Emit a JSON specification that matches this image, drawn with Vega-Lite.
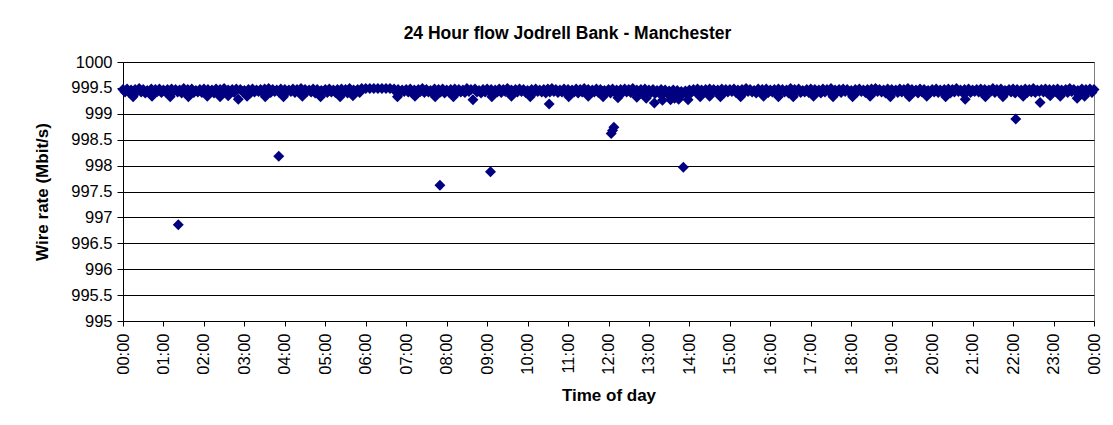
{
  "$schema": "https://vega.github.io/schema/vega-lite/v6.json",
  "autosize": {"type": "none"},
  "padding": {"left": 123, "top": 62, "right": 19, "bottom": 104},
  "width": 971,
  "height": 259,
  "background": "white",
  "title": {
    "text": "24 Hour flow Jodrell Bank - Manchester",
    "font": "Liberation Sans",
    "fontSize": 17.5,
    "fontWeight": "bold",
    "color": "#000000",
    "anchor": "middle",
    "frame": "group",
    "baseline": "alphabetic",
    "offset": 22,
    "dx": -41,
    "dy": 24
  },
  "data": {
    "values": [
      {"m":0,"v":999.47},{"m":6,"v":999.48},{"m":12,"v":999.46},{"m":18,"v":999.47},{"m":24,"v":999.49},{"m":30,"v":999.47},{"m":36,"v":999.45},{"m":42,"v":999.48},{"m":48,"v":999.47},{"m":54,"v":999.48},
      {"m":60,"v":999.46},{"m":66,"v":999.47},{"m":72,"v":999.48},{"m":78,"v":999.47},{"m":84,"v":999.46},{"m":90,"v":999.49},{"m":96,"v":999.47},{"m":102,"v":999.48},{"m":108,"v":999.45},{"m":114,"v":999.47},
      {"m":120,"v":999.48},{"m":126,"v":999.47},{"m":132,"v":999.46},{"m":138,"v":999.48},{"m":144,"v":999.47},{"m":150,"v":999.49},{"m":156,"v":999.46},{"m":162,"v":999.47},{"m":168,"v":999.48},{"m":174,"v":999.47},
      {"m":180,"v":999.45},{"m":186,"v":999.47},{"m":192,"v":999.48},{"m":198,"v":999.46},{"m":204,"v":999.47},{"m":210,"v":999.48},{"m":216,"v":999.49},{"m":222,"v":999.47},{"m":228,"v":999.46},{"m":234,"v":999.48},
      {"m":240,"v":999.47},{"m":246,"v":999.46},{"m":252,"v":999.48},{"m":258,"v":999.47},{"m":264,"v":999.49},{"m":270,"v":999.47},{"m":276,"v":999.46},{"m":282,"v":999.48},{"m":288,"v":999.47},{"m":294,"v":999.45},
      {"m":300,"v":999.47},{"m":306,"v":999.48},{"m":312,"v":999.46},{"m":318,"v":999.47},{"m":324,"v":999.48},{"m":330,"v":999.47},{"m":336,"v":999.49},{"m":342,"v":999.46},{"m":348,"v":999.47},{"m":354,"v":999.49},
      {"m":360,"v":999.49},{"m":366,"v":999.49},{"m":372,"v":999.49},{"m":378,"v":999.49},{"m":384,"v":999.49},{"m":390,"v":999.49},{"m":396,"v":999.49},{"m":402,"v":999.48},{"m":408,"v":999.47},{"m":414,"v":999.46},
      {"m":420,"v":999.47},{"m":426,"v":999.48},{"m":432,"v":999.46},{"m":438,"v":999.47},{"m":444,"v":999.49},{"m":450,"v":999.47},{"m":456,"v":999.45},{"m":462,"v":999.48},{"m":468,"v":999.47},{"m":474,"v":999.48},
      {"m":480,"v":999.46},{"m":486,"v":999.47},{"m":492,"v":999.48},{"m":498,"v":999.47},{"m":504,"v":999.46},{"m":510,"v":999.49},{"m":516,"v":999.47},{"m":522,"v":999.48},{"m":528,"v":999.45},{"m":534,"v":999.47},
      {"m":540,"v":999.48},{"m":546,"v":999.47},{"m":552,"v":999.46},{"m":558,"v":999.48},{"m":564,"v":999.47},{"m":570,"v":999.49},{"m":576,"v":999.46},{"m":582,"v":999.47},{"m":588,"v":999.48},{"m":594,"v":999.47},
      {"m":600,"v":999.45},{"m":606,"v":999.47},{"m":612,"v":999.48},{"m":618,"v":999.46},{"m":624,"v":999.47},{"m":630,"v":999.48},{"m":636,"v":999.49},{"m":642,"v":999.47},{"m":648,"v":999.46},{"m":654,"v":999.48},
      {"m":660,"v":999.47},{"m":666,"v":999.46},{"m":672,"v":999.48},{"m":678,"v":999.47},{"m":684,"v":999.49},{"m":690,"v":999.47},{"m":696,"v":999.46},{"m":702,"v":999.48},{"m":708,"v":999.47},{"m":714,"v":999.45},
      {"m":720,"v":999.47},{"m":726,"v":999.48},{"m":732,"v":999.46},{"m":738,"v":999.47},{"m":744,"v":999.48},{"m":750,"v":999.47},{"m":756,"v":999.49},{"m":762,"v":999.46},{"m":768,"v":999.47},{"m":774,"v":999.48},
      {"m":780,"v":999.46},{"m":786,"v":999.47},{"m":792,"v":999.45},{"m":798,"v":999.47},{"m":804,"v":999.46},{"m":810,"v":999.44},{"m":816,"v":999.46},{"m":822,"v":999.45},{"m":828,"v":999.43},{"m":834,"v":999.44},
      {"m":840,"v":999.46},{"m":846,"v":999.47},{"m":852,"v":999.48},{"m":858,"v":999.46},{"m":864,"v":999.47},{"m":870,"v":999.48},{"m":876,"v":999.47},{"m":882,"v":999.46},{"m":888,"v":999.48},{"m":894,"v":999.47},
      {"m":900,"v":999.47},{"m":906,"v":999.48},{"m":912,"v":999.46},{"m":918,"v":999.47},{"m":924,"v":999.49},{"m":930,"v":999.47},{"m":936,"v":999.45},{"m":942,"v":999.48},{"m":948,"v":999.47},{"m":954,"v":999.48},
      {"m":960,"v":999.46},{"m":966,"v":999.47},{"m":972,"v":999.48},{"m":978,"v":999.47},{"m":984,"v":999.46},{"m":990,"v":999.49},{"m":996,"v":999.47},{"m":1002,"v":999.48},{"m":1008,"v":999.45},{"m":1014,"v":999.47},
      {"m":1020,"v":999.48},{"m":1026,"v":999.47},{"m":1032,"v":999.46},{"m":1038,"v":999.48},{"m":1044,"v":999.47},{"m":1050,"v":999.49},{"m":1056,"v":999.46},{"m":1062,"v":999.47},{"m":1068,"v":999.48},{"m":1074,"v":999.47},
      {"m":1080,"v":999.45},{"m":1086,"v":999.47},{"m":1092,"v":999.48},{"m":1098,"v":999.46},{"m":1104,"v":999.47},{"m":1110,"v":999.48},{"m":1116,"v":999.49},{"m":1122,"v":999.47},{"m":1128,"v":999.46},{"m":1134,"v":999.48},
      {"m":1140,"v":999.47},{"m":1146,"v":999.46},{"m":1152,"v":999.48},{"m":1158,"v":999.47},{"m":1164,"v":999.49},{"m":1170,"v":999.47},{"m":1176,"v":999.46},{"m":1182,"v":999.48},{"m":1188,"v":999.47},{"m":1194,"v":999.45},
      {"m":1200,"v":999.47},{"m":1206,"v":999.48},{"m":1212,"v":999.46},{"m":1218,"v":999.47},{"m":1224,"v":999.48},{"m":1230,"v":999.47},{"m":1236,"v":999.49},{"m":1242,"v":999.46},{"m":1248,"v":999.47},{"m":1254,"v":999.48},
      {"m":1260,"v":999.46},{"m":1266,"v":999.47},{"m":1272,"v":999.48},{"m":1278,"v":999.47},{"m":1284,"v":999.46},{"m":1290,"v":999.49},{"m":1296,"v":999.47},{"m":1302,"v":999.48},{"m":1308,"v":999.45},{"m":1314,"v":999.47},
      {"m":1320,"v":999.48},{"m":1326,"v":999.47},{"m":1332,"v":999.46},{"m":1338,"v":999.48},{"m":1344,"v":999.47},{"m":1350,"v":999.49},{"m":1356,"v":999.46},{"m":1362,"v":999.47},{"m":1368,"v":999.48},{"m":1374,"v":999.47},
      {"m":1380,"v":999.47},{"m":1386,"v":999.48},{"m":1392,"v":999.46},{"m":1398,"v":999.47},{"m":1404,"v":999.49},{"m":1410,"v":999.47},{"m":1416,"v":999.45},{"m":1422,"v":999.48},{"m":1428,"v":999.47},{"m":1434,"v":999.48},
      {"m":1440,"v":999.47},
      {"m":3,"v":999.42},{"m":9,"v":999.41},{"m":21,"v":999.43},{"m":27,"v":999.42},{"m":33,"v":999.4},{"m":39,"v":999.42},{"m":51,"v":999.43},{"m":57,"v":999.41},{"m":63,"v":999.42},{"m":69,"v":999.41},
      {"m":75,"v":999.43},{"m":81,"v":999.42},{"m":87,"v":999.4},{"m":93,"v":999.42},{"m":99,"v":999.43},{"m":105,"v":999.41},{"m":111,"v":999.42},{"m":117,"v":999.41},{"m":123,"v":999.43},{"m":129,"v":999.42},
      {"m":135,"v":999.4},{"m":141,"v":999.42},{"m":147,"v":999.43},{"m":153,"v":999.41},{"m":159,"v":999.42},{"m":165,"v":999.41},{"m":177,"v":999.43},{"m":183,"v":999.42},{"m":189,"v":999.4},{"m":195,"v":999.42},
      {"m":201,"v":999.43},{"m":207,"v":999.41},{"m":213,"v":999.42},{"m":219,"v":999.41},{"m":225,"v":999.43},{"m":231,"v":999.42},{"m":237,"v":999.4},{"m":243,"v":999.42},{"m":249,"v":999.43},{"m":255,"v":999.41},
      {"m":261,"v":999.42},{"m":267,"v":999.41},{"m":273,"v":999.43},{"m":279,"v":999.42},{"m":285,"v":999.4},{"m":291,"v":999.42},{"m":297,"v":999.43},{"m":303,"v":999.41},{"m":309,"v":999.42},{"m":315,"v":999.41},
      {"m":321,"v":999.43},{"m":327,"v":999.42},{"m":333,"v":999.4},{"m":339,"v":999.42},{"m":345,"v":999.43},{"m":351,"v":999.41},{"m":405,"v":999.42},{"m":411,"v":999.41},{"m":417,"v":999.43},{"m":423,"v":999.42},
      {"m":429,"v":999.4},{"m":435,"v":999.42},{"m":441,"v":999.43},{"m":447,"v":999.41},{"m":453,"v":999.42},{"m":459,"v":999.41},{"m":465,"v":999.43},{"m":471,"v":999.42},{"m":477,"v":999.4},{"m":483,"v":999.42},
      {"m":489,"v":999.43},{"m":495,"v":999.41},{"m":501,"v":999.42},{"m":507,"v":999.41},{"m":513,"v":999.43},{"m":525,"v":999.42},{"m":531,"v":999.4},{"m":537,"v":999.42},{"m":543,"v":999.43},{"m":549,"v":999.41},
      {"m":555,"v":999.42},{"m":561,"v":999.41},{"m":567,"v":999.43},{"m":573,"v":999.42},{"m":579,"v":999.4},{"m":585,"v":999.42},{"m":591,"v":999.43},{"m":597,"v":999.41},{"m":603,"v":999.42},{"m":609,"v":999.41},
      {"m":615,"v":999.43},{"m":621,"v":999.42},{"m":627,"v":999.4},{"m":633,"v":999.42},{"m":639,"v":999.43},{"m":645,"v":999.41},{"m":651,"v":999.42},{"m":657,"v":999.41},{"m":663,"v":999.43},{"m":669,"v":999.42},
      {"m":675,"v":999.4},{"m":681,"v":999.42},{"m":687,"v":999.43},{"m":693,"v":999.41},{"m":699,"v":999.42},{"m":705,"v":999.41},{"m":711,"v":999.43},{"m":717,"v":999.42},{"m":723,"v":999.4},{"m":729,"v":999.42},
      {"m":735,"v":999.43},{"m":741,"v":999.41},{"m":747,"v":999.42},{"m":753,"v":999.41},{"m":759,"v":999.43},{"m":765,"v":999.42},{"m":771,"v":999.4},{"m":777,"v":999.42},{"m":783,"v":999.41},{"m":789,"v":999.39},
      {"m":795,"v":999.4},{"m":801,"v":999.38},{"m":807,"v":999.39},{"m":813,"v":999.4},{"m":819,"v":999.38},{"m":825,"v":999.37},{"m":831,"v":999.39},{"m":837,"v":999.38},{"m":843,"v":999.41},{"m":849,"v":999.42},
      {"m":855,"v":999.43},{"m":861,"v":999.41},{"m":867,"v":999.42},{"m":873,"v":999.41},{"m":879,"v":999.43},{"m":885,"v":999.42},{"m":891,"v":999.4},{"m":897,"v":999.42},{"m":903,"v":999.43},{"m":909,"v":999.41},
      {"m":915,"v":999.42},{"m":921,"v":999.41},{"m":927,"v":999.43},{"m":933,"v":999.42},{"m":939,"v":999.4},{"m":945,"v":999.42},{"m":951,"v":999.43},{"m":957,"v":999.41},{"m":963,"v":999.42},{"m":969,"v":999.41},
      {"m":975,"v":999.43},{"m":981,"v":999.42},{"m":987,"v":999.4},{"m":993,"v":999.42},{"m":999,"v":999.43},{"m":1005,"v":999.41},{"m":1011,"v":999.42},{"m":1017,"v":999.41},{"m":1023,"v":999.43},{"m":1029,"v":999.42},
      {"m":1035,"v":999.4},{"m":1041,"v":999.42},{"m":1047,"v":999.43},{"m":1053,"v":999.41},{"m":1059,"v":999.42},{"m":1065,"v":999.41},{"m":1071,"v":999.43},{"m":1077,"v":999.42},{"m":1083,"v":999.4},{"m":1089,"v":999.42},
      {"m":1095,"v":999.43},{"m":1101,"v":999.41},{"m":1107,"v":999.42},{"m":1113,"v":999.41},{"m":1119,"v":999.43},{"m":1125,"v":999.42},{"m":1131,"v":999.4},{"m":1137,"v":999.42},{"m":1143,"v":999.43},{"m":1149,"v":999.41},
      {"m":1155,"v":999.42},{"m":1161,"v":999.41},{"m":1167,"v":999.43},{"m":1173,"v":999.42},{"m":1179,"v":999.4},{"m":1185,"v":999.42},{"m":1191,"v":999.43},{"m":1197,"v":999.41},{"m":1203,"v":999.42},{"m":1209,"v":999.41},
      {"m":1215,"v":999.43},{"m":1221,"v":999.42},{"m":1227,"v":999.4},{"m":1233,"v":999.42},{"m":1239,"v":999.43},{"m":1245,"v":999.41},{"m":1251,"v":999.42},{"m":1257,"v":999.41},{"m":1263,"v":999.43},{"m":1269,"v":999.42},
      {"m":1275,"v":999.4},{"m":1281,"v":999.42},{"m":1287,"v":999.43},{"m":1293,"v":999.41},{"m":1299,"v":999.42},{"m":1305,"v":999.41},{"m":1311,"v":999.43},{"m":1317,"v":999.42},{"m":1323,"v":999.4},{"m":1329,"v":999.42},
      {"m":1335,"v":999.43},{"m":1341,"v":999.41},{"m":1347,"v":999.42},{"m":1353,"v":999.41},{"m":1359,"v":999.43},{"m":1365,"v":999.42},{"m":1371,"v":999.4},{"m":1377,"v":999.42},{"m":1383,"v":999.43},{"m":1389,"v":999.41},
      {"m":1395,"v":999.42},{"m":1401,"v":999.41},{"m":1407,"v":999.43},{"m":1413,"v":999.42},{"m":1419,"v":999.4},{"m":1425,"v":999.42},{"m":1431,"v":999.43},{"m":1437,"v":999.41},
      {"m":15,"v":999.33},{"m":43,"v":999.34},{"m":70,"v":999.33},{"m":97,"v":999.33},{"m":125,"v":999.34},{"m":144,"v":999.33},{"m":156,"v":999.35},{"m":171,"v":999.28},{"m":184,"v":999.34},{"m":211,"v":999.33},
      {"m":238,"v":999.33},{"m":266,"v":999.34},{"m":293,"v":999.33},{"m":322,"v":999.33},{"m":341,"v":999.35},{"m":407,"v":999.33},{"m":433,"v":999.34},{"m":463,"v":999.33},{"m":490,"v":999.33},{"m":519,"v":999.27},
      {"m":547,"v":999.33},{"m":576,"v":999.34},{"m":604,"v":999.33},{"m":632,"v":999.19},{"m":661,"v":999.33},{"m":690,"v":999.34},{"m":712,"v":999.33},{"m":734,"v":999.31},{"m":762,"v":999.32},{"m":776,"v":999.3},
      {"m":788,"v":999.21},{"m":800,"v":999.26},{"m":812,"v":999.27},{"m":818,"v":999.3},{"m":824,"v":999.28},{"m":838,"v":999.27},{"m":856,"v":999.33},{"m":870,"v":999.34},{"m":886,"v":999.33},{"m":916,"v":999.33},
      {"m":950,"v":999.34},{"m":972,"v":999.33},{"m":994,"v":999.33},{"m":1024,"v":999.34},{"m":1053,"v":999.33},{"m":1082,"v":999.33},{"m":1108,"v":999.34},{"m":1138,"v":999.33},{"m":1166,"v":999.33},{"m":1192,"v":999.34},
      {"m":1220,"v":999.33},{"m":1249,"v":999.28},{"m":1279,"v":999.33},{"m":1305,"v":999.33},{"m":1335,"v":999.34},{"m":1360,"v":999.22},{"m":1375,"v":999.35},{"m":1390,"v":999.34},{"m":1415,"v":999.3},{"m":1426,"v":999.34},
      {"m":82,"v":996.86},{"m":231,"v":998.18},{"m":470,"v":997.62},{"m":545,"v":997.88},
      {"m":724,"v":998.62},{"m":726,"v":998.68},{"m":728,"v":998.74},
      {"m":831,"v":997.97},{"m":1324,"v":998.9}
    ]
  },
  "mark": {"type": "point", "shape": "diamond", "filled": true, "color": "#000080", "opacity": 1, "size": 120},
  "encoding": {
    "x": {
      "field": "m",
      "type": "quantitative",
      "scale": {"domain": [0, 1440], "nice": false, "zero": false},
      "axis": {
        "title": "Time of day",
        "values": [0,60,120,180,240,300,360,420,480,540,600,660,720,780,840,900,960,1020,1080,1140,1200,1260,1320,1380,1440],
        "labelExpr": "(floor(datum.value/60)%24 < 10 ? '0' : '') + (floor(datum.value/60)%24) + ':00'",
        "labelAngle": 270,
        "labelAlign": "right",
        "labelBaseline": "middle",
        "grid": false,
        "tickSize": 5,
        "labelPadding": 7,
        "titleY": 74,
        "titleBaseline": "middle",
        "labelOverlap": false,
        "labelFlush": false
      }
    },
    "y": {
      "field": "v",
      "type": "quantitative",
      "scale": {"domain": [995, 1000], "nice": false, "zero": false},
      "axis": {
        "title": "Wire rate (Mbit/s)",
        "values": [995,995.5,996,996.5,997,997.5,998,998.5,999,999.5,1000],
        "format": ".1~f",
        "grid": true,
        "tickSize": 6,
        "labelPadding": 5,
        "titleX": -81,
        "titleY": 129.5,
        "titleAngle": 270,
        "titleAlign": "center",
        "titleBaseline": "middle",
        "labelOverlap": false,
        "labelFlush": false
      }
    }
  },
  "config": {
    "font": "Liberation Sans",
    "view": {"stroke": "#808080", "strokeWidth": 1},
    "axis": {
      "labelFont": "Liberation Sans",
      "labelFontSize": 16.5,
      "labelColor": "#000000",
      "titleFont": "Liberation Sans",
      "titleFontSize": 17,
      "titleFontWeight": "bold",
      "titleColor": "#000000",
      "domainColor": "#000000",
      "domainWidth": 1,
      "tickColor": "#000000",
      "tickWidth": 1,
      "gridColor": "#000000",
      "gridWidth": 1,
      "gridOpacity": 1
    }
  }
}
